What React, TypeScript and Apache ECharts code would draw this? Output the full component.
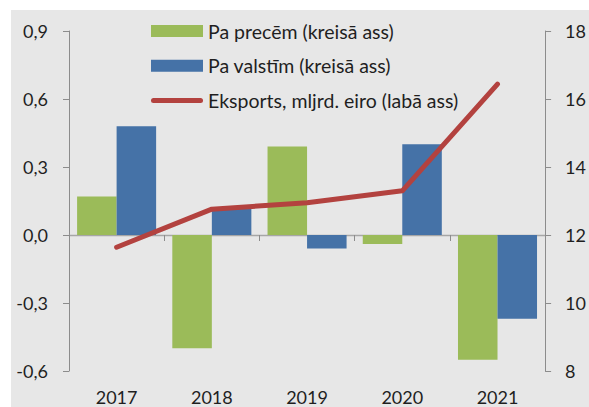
import React, { useEffect, useRef } from "react";
import * as echarts from "echarts";

const years = ["2017", "2018", "2019", "2020", "2021"];
const byGoods = [0.17, -0.5, 0.39, -0.04, -0.55];
const byCountries = [0.48, 0.12, -0.06, 0.4, -0.37];
const exportsBn = [11.64, 12.76, 12.95, 13.3, 16.44];
const leftTicks = { min: -0.6, max: 0.9, interval: 0.3 };
const rightTicks = { min: 8, max: 18, interval: 2 };

const seriesNames = [
  "Pa precēm (kreisā ass)",
  "Pa valstīm (kreisā ass)",
  "Eksports, mljrd. eiro (labā ass)",
];

const FONT = "Lato";
const TEXT = "#1f1f1f";
const AXIS = "#8c8c8c";

export default function App() {
  const ref = useRef<HTMLDivElement>(null);
  useEffect(() => {
    if (!ref.current) return;
    const chart = echarts.init(ref.current, null, { renderer: "svg" });
    chart.setOption({
      animation: false,
      backgroundColor: "#ffffff",
      textStyle: { fontFamily: FONT },
      graphic: [
        {
          type: "rect",
          z: -10,
          silent: true,
          shape: { x: 11, y: 10, width: 578, height: 397 },
          style: { fill: "#e7e7e7" },
        },
      ],
      grid: { left: 69, right: 43.3, top: 31, bottom: 36 },
      legend: {
        orient: "vertical",
        left: 151,
        top: 20,
        padding: 0,
        itemWidth: 52,
        itemHeight: 12,
        itemGap: 12.7,
        textStyle: { fontSize: 19.5, color: TEXT, fontFamily: FONT, lineHeight: 22 },
        data: [
          { name: seriesNames[0], icon: "rect" },
          { name: seriesNames[1], icon: "rect" },
          {
            name: seriesNames[2],
            icon: "path://M2.5,0 h47 a2.5,2.5 0 0 1 0,5 h-47 a2.5,2.5 0 0 1 0,-5 z",
          },
        ],
      },
      xAxis: [
        {
          type: "category",
          data: years,
          axisLine: { onZero: true, lineStyle: { color: "#a6a6a6", width: 1.3 } },
          axisTick: { show: true, length: 6, lineStyle: { color: AXIS } },
          axisLabel: { show: false },
          splitLine: { show: false },
        },
        {
          type: "category",
          data: years,
          position: "bottom",
          axisLine: { show: false },
          axisTick: { show: false },
          axisLabel: {
            show: true,
            fontSize: 18,
            lineHeight: 18,
            color: TEXT,
            fontFamily: FONT,
            margin: 17,
          },
        },
      ],
      yAxis: [
        {
          type: "value",
          ...leftTicks,
          axisLine: { show: true, lineStyle: { color: AXIS } },
          axisTick: { show: true, length: 6, lineStyle: { color: AXIS } },
          splitLine: { show: false },
          axisLabel: {
            fontSize: 18,
            color: TEXT,
            fontFamily: FONT,
            margin: 21,
            formatter: (v: number) => v.toFixed(1).replace(".", ",").replace("-0,0", "0,0"),
          },
        },
        {
          type: "value",
          ...rightTicks,
          position: "right",
          axisLine: { show: true, lineStyle: { color: AXIS } },
          axisTick: { show: true, length: 6, lineStyle: { color: AXIS } },
          splitLine: { show: false },
          axisLabel: { fontSize: 18, color: TEXT, fontFamily: FONT, margin: 20 },
        },
      ],
      series: [
        {
          name: seriesNames[0],
          type: "bar",
          data: byGoods,
          xAxisIndex: 0,
          yAxisIndex: 0,
          barGap: "0%",
          barCategoryGap: "17%",
          itemStyle: { color: "#9bbb59" },
        },
        {
          name: seriesNames[1],
          type: "bar",
          data: byCountries,
          xAxisIndex: 0,
          yAxisIndex: 0,
          barGap: "0%",
          barCategoryGap: "17%",
          itemStyle: { color: "#4572a7" },
        },
        {
          name: seriesNames[2],
          type: "line",
          data: exportsBn,
          xAxisIndex: 0,
          yAxisIndex: 1,
          symbol: "none",
          z: 5,
          itemStyle: { color: "#b3423f" },
          lineStyle: { color: "#b3423f", width: 5, cap: "round", join: "round" },
        },
      ],
    });
    return () => chart.dispose();
  }, []);
  return (
    <div
      ref={ref}
      style={{ position: "fixed", left: 0, top: 0, width: 589, height: 407 }}
    />
  );
}
